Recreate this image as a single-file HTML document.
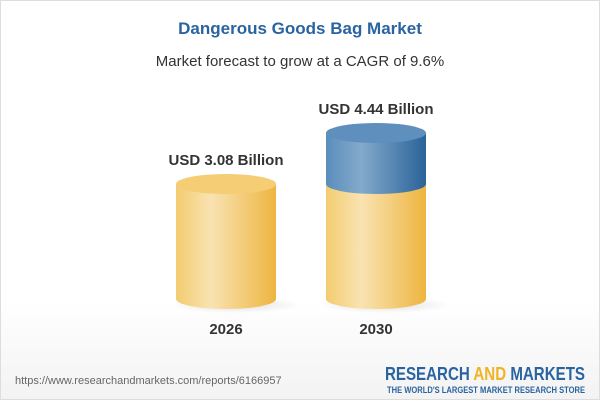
<!DOCTYPE html>
<html><head><style>
body{margin:0;}
.c{width:598px;height:398px;border:1px solid #ddd;position:relative;background:linear-gradient(#fff 0%,#fff 75%,#f3f3f3 100%);font-family:"Liberation Sans",sans-serif;overflow:hidden}
.t{position:absolute;width:100%;text-align:center}
</style></head><body><div class="c">
<div class="t" style="top:18px;font-size:17px;font-weight:bold;color:#2a64a0">Dangerous Goods Bag Market</div>
<div class="t" style="top:52px;font-size:15px;color:#333">Market forecast to grow at a CAGR of 9.6%</div>
<svg width="600" height="400" style="position:absolute;left:0;top:0">
<defs>
<linearGradient id="y" x1="0" x2="1"><stop offset="0" stop-color="#f3cc70"/><stop offset="0.35" stop-color="#f9e3b2"/><stop offset="1" stop-color="#eeb540"/></linearGradient>
<linearGradient id="b" x1="0" x2="1"><stop offset="0" stop-color="#5a8dbb"/><stop offset="0.35" stop-color="#84aacb"/><stop offset="1" stop-color="#2a6399"/></linearGradient>
<radialGradient id="s"><stop offset="0" stop-color="#000" stop-opacity="0.12"/><stop offset="1" stop-color="#000" stop-opacity="0"/></radialGradient>
</defs>
<ellipse cx="235" cy="304" rx="65" ry="8" fill="url(#s)"/>
<ellipse cx="385" cy="304" rx="65" ry="8" fill="url(#s)"/>
<path d="M175 183 V298 A50 10 0 0 0 275 298 V183 Z" fill="url(#y)"/>
<ellipse cx="225" cy="183" rx="50" ry="10" fill="#f4cd74"/>
<path d="M325 183 V298 A50 10 0 0 0 425 298 V183 Z" fill="url(#y)"/>
<path d="M325 132 V183 A50 10 0 0 0 425 183 V132 Z" fill="url(#b)"/>
<ellipse cx="375" cy="132" rx="50" ry="10" fill="#5f90bd"/>
<text x="225" y="164" text-anchor="middle" font-size="15" font-weight="bold" fill="#333">USD 3.08 Billion</text>
<text x="375" y="113" text-anchor="middle" font-size="15" font-weight="bold" fill="#333">USD 4.44 Billion</text>
<text x="225" y="333" text-anchor="middle" font-size="15" font-weight="bold" fill="#333">2026</text>
<text x="375" y="333" text-anchor="middle" font-size="15" font-weight="bold" fill="#333">2030</text>
<text x="14" y="383" font-size="11" fill="#666">https://www.researchandmarkets.com/reports/6166957</text>
<text x="584" y="379" text-anchor="end" font-size="18" font-weight="bold" fill="#2a64a0" textLength="200" lengthAdjust="spacingAndGlyphs">RESEARCH <tspan fill="#f0b323">AND</tspan> MARKETS</text>
<text x="584" y="392" text-anchor="end" font-size="9" font-weight="bold" fill="#2a64a0" textLength="198" lengthAdjust="spacingAndGlyphs">THE WORLD'S LARGEST MARKET RESEARCH STORE</text>
</svg>
</div></body></html>
